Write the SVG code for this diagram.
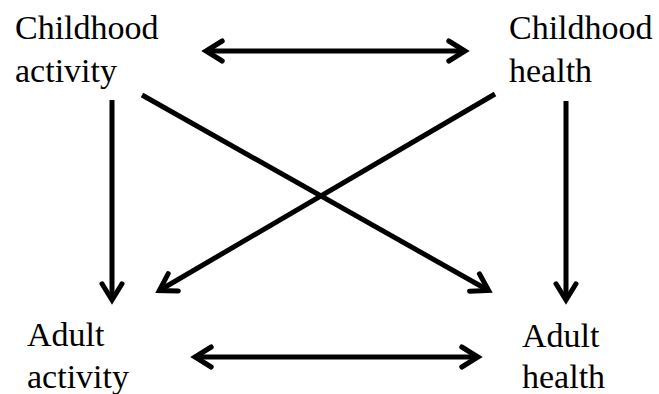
<svg xmlns="http://www.w3.org/2000/svg" width="659" height="394" viewBox="0 0 659 394">
<style>
.lbl{font-family:"Liberation Serif","Times New Roman",serif;font-size:34px;fill:#000}
.edge{stroke:#000;stroke-width:5;fill:none}
</style>
<defs>
<marker id="ah" markerUnits="userSpaceOnUse" viewBox="-30 -16 34 32" refX="-4.8" refY="0" markerWidth="34" markerHeight="32" orient="auto-start-reverse">
<path d="M-21,-10 L-4.8,0 L-21,10" stroke="#000" stroke-width="5" fill="none" stroke-linejoin="miter" stroke-linecap="round"/>
</marker>
</defs>
<rect width="659" height="394" fill="#fff"/>
<g id="childhood-activity"><text class="lbl" x="15" y="39">Childhood</text><text class="lbl" x="15" y="82">activity</text></g>
<g id="childhood-health"><text class="lbl" x="509" y="39">Childhood</text><text class="lbl" x="509" y="82">health</text></g>
<g id="adult-activity"><text class="lbl" x="27" y="346">Adult</text><text class="lbl" x="27" y="388">activity</text></g>
<g id="adult-health"><text class="lbl" x="522" y="347">Adult</text><text class="lbl" x="522" y="388">health</text></g>
<g id="connectors">
<line class="edge" x1="206" y1="51" x2="465" y2="51" marker-start="url(#ah)" marker-end="url(#ah)"/>
<line class="edge" x1="195" y1="357" x2="478" y2="357" marker-start="url(#ah)" marker-end="url(#ah)"/>
<line class="edge" x1="112" y1="100" x2="112" y2="300" marker-end="url(#ah)"/>
<line class="edge" x1="566" y1="101" x2="566" y2="300" marker-end="url(#ah)"/>
<line class="edge" x1="142" y1="95" x2="488.6" y2="290.5" marker-end="url(#ah)"/>
<line class="edge" x1="495" y1="94" x2="159.3" y2="290.5" marker-end="url(#ah)"/>
</g>
</svg>
